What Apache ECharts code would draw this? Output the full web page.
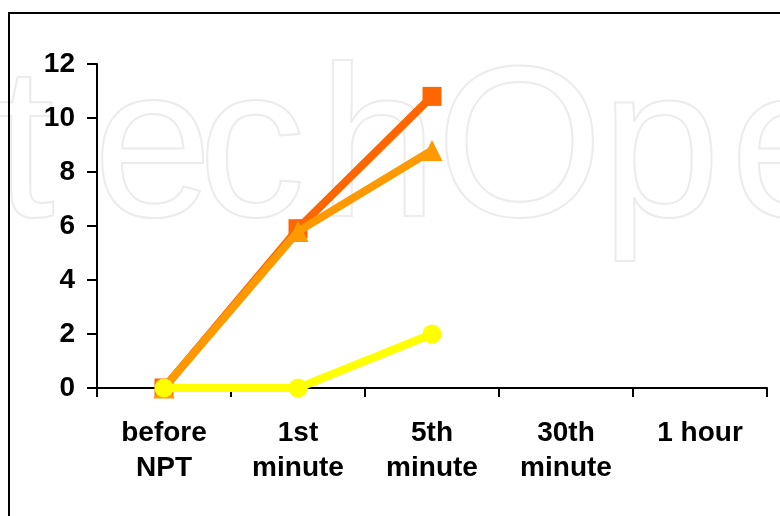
<!DOCTYPE html>
<html><head><meta charset="utf-8">
<script src="https://cdn.jsdelivr.net/npm/echarts@6/dist/echarts.min.js"></script>
<style>html,body{margin:0;padding:0;background:#fff}#c{width:780px;height:516px}</style>
</head><body><div id="c"></div>
<script>
const categories = ['before\nNPT', '1st\nminute', '5th\nminute', '30th\nminute', '1 hour'];
const seriesDarkOrange = [0, 5.9, 10.8, null, null];
const seriesOrange = [0, 5.8, 8.8, null, null];
const seriesYellow = [0, 0, 2, null, null];
const yTicks = { min: 0, max: 12, interval: 2 };

// faint background watermark letters (decoration)
const watermarkLetters = ['t', 'e', 'c', 'h', 'O', 'p', 'e'];
const watermarkLeft = [-6, 92, 197, 317, 435, 600, 729];

const font = 'Liberation Sans';
const graphics = watermarkLetters.map((ch, i) => ({
  type: 'text', left: watermarkLeft[i], top: 48, z: 0, silent: true,
  style: { text: ch, font: '215px "Liberation Sans"', fill: 'transparent', stroke: '#ececec', lineWidth: 2 }
}));
graphics.push({ type: 'rect', z: 1, silent: true, shape: { x: 9, y: 13, width: 800, height: 600 },
  style: { fill: 'transparent', stroke: '#000', lineWidth: 2 } });

const chart = echarts.init(document.getElementById('c'), null, { renderer: 'canvas' });
chart.setOption({
  animation: false,
  backgroundColor: '#fff',
  graphic: graphics,
  grid: { left: 97, top: 64, right: 13, bottom: 128, containLabel: false },
  xAxis: {
    type: 'category', data: categories, boundaryGap: true,
    axisLine: { lineStyle: { color: '#000', width: 2 } },
    axisTick: { show: true, length: 9, inside: false, lineStyle: { color: '#000', width: 2 } },
    axisLabel: { color: '#000', fontFamily: font, fontWeight: 'bold', fontSize: 28, lineHeight: 35, margin: 28, interval: 0 },
    splitLine: { show: false }
  },
  yAxis: {
    type: 'value', min: yTicks.min, max: yTicks.max, interval: yTicks.interval,
    axisLine: { show: true, lineStyle: { color: '#000', width: 2 } },
    axisTick: { show: true, length: 10, lineStyle: { color: '#000', width: 2 } },
    axisLabel: { color: '#000', fontFamily: font, fontWeight: 'bold', fontSize: 28, margin: 22 },
    splitLine: { show: false }
  },
  series: [
    { type: 'line', data: seriesDarkOrange, symbol: 'rect', symbolSize: 19, z: 3,
      lineStyle: { color: '#FF6600', width: 8 }, itemStyle: { color: '#FF6600' } },
    { type: 'line', data: seriesOrange, symbol: 'triangle', symbolSize: 21, z: 4,
      lineStyle: { color: '#FF9900', width: 8 }, itemStyle: { color: '#FF9900' } },
    { type: 'line', data: seriesYellow, symbol: 'circle', symbolSize: 19, z: 5,
      lineStyle: { color: '#FFFF00', width: 8 }, itemStyle: { color: '#FFFF00' } }
  ]
});
</script></body></html>
